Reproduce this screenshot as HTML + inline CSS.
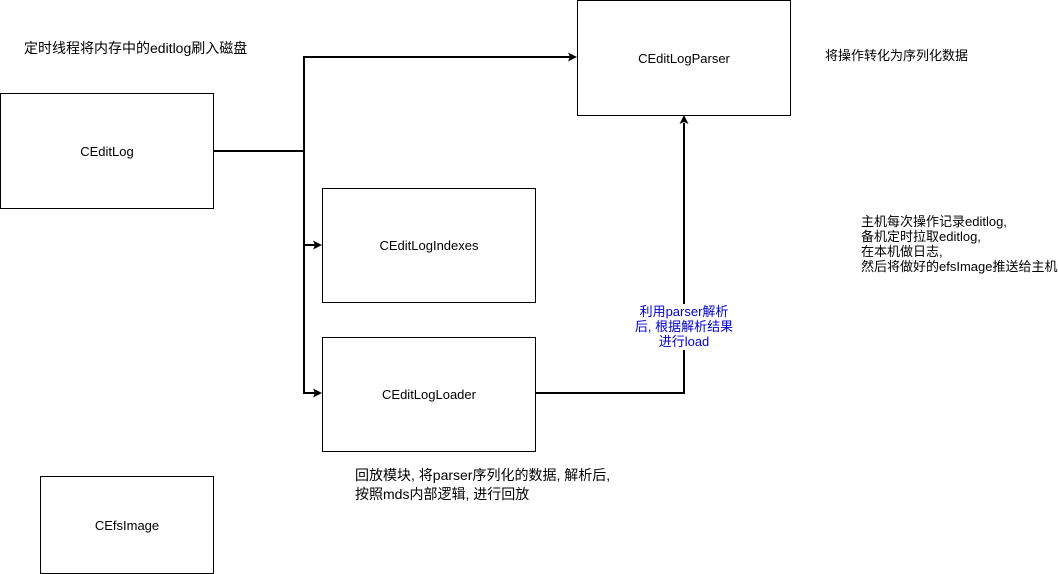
<!DOCTYPE html>
<html><head><meta charset="utf-8"><style>
body{margin:0;width:1058px;height:574px;background:#fff;position:relative;overflow:hidden;font-family:"Liberation Sans","Noto Sans CJK SC",sans-serif;font-size:12px;color:#000}
.b{position:absolute;border:1px solid #000;box-sizing:border-box;background:#fff;display:flex;align-items:center;justify-content:center;font-size:13px}
.t{position:absolute;white-space:nowrap;line-height:15px}
</style></head><body>
<svg width="1058" height="574" style="position:absolute;left:0;top:0">
<g stroke="#000" stroke-width="2" fill="none">
<path d="M213 151H304V57H570"/>
<path d="M304 151V245H315"/>
<path d="M304 245V393H315"/>
<path d="M535 393H684V350"/>
<path d="M684 305V123"/>
</g>
<g fill="#000">
<path d="M577 57l-9-4.5 2 4.5-2 4.5z"/>
<path d="M322 245l-9-4.5 2 4.5-2 4.5z"/>
<path d="M322 393l-9-4.5 2 4.5-2 4.5z"/>
<path d="M684 115l-4.5 9 4.5-2 4.5 2z"/>
</g>
</svg>
<div class="b" style="left:577px;top:0;width:214px;height:116px">CEditLogParser</div>
<div class="b" style="left:0;top:93px;width:214px;height:116px">CEditLog</div>
<div class="b" style="left:322px;top:188px;width:214px;height:115px">CEditLogIndexes</div>
<div class="b" style="left:322px;top:337px;width:214px;height:115px">CEditLogLoader</div>
<div class="b" style="left:40px;top:476px;width:174px;height:98px">CEfsImage</div>
<div class="t" style="left:24px;top:40px;font-size:14px;line-height:16px">定时线程将内存中的editlog刷入磁盘</div>
<div class="t" style="left:825px;top:48px;font-size:13px">将操作转化为序列化数据</div>
<div class="t" style="left:861px;top:214px;font-size:13px">主机每次操作记录editlog,<br>备机定时拉取editlog,<br>在本机做日志,<br>然后将做好的efsImage推送给主机</div>
<div class="t" style="left:684px;top:304px;transform:translateX(-50%);color:#0000cc;text-align:center;background:#fff;font-size:13px">利用parser解析<br>后, 根据解析结果<br>进行load</div>
<div class="t" style="left:355px;top:466px;line-height:19px;font-size:14px">回放模块, 将parser序列化的数据, 解析后,<br>按照mds内部逻辑, 进行回放</div>
</body></html>
